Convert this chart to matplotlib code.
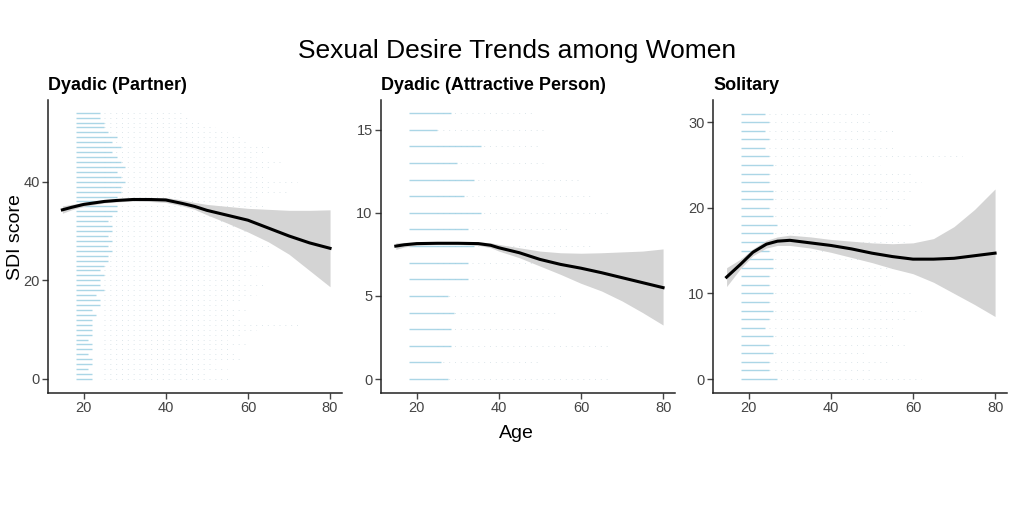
import matplotlib.pyplot as plt
import numpy as np

plt.rcParams['font.family'] = ['Liberation Sans', 'DejaVu Sans']

# ---- data ----
titles = ['Dyadic (Partner)', 'Dyadic (Attractive Person)', 'Solitary']

# smooth curves (age, fit, lower, upper)
age_fit = [[14.8, 17, 20, 25, 28, 32, 36, 40, 44, 47, 50, 55, 60, 65, 70, 75, 80],
           [14.9, 17, 20, 25, 30, 35, 38, 40, 45, 50, 55, 60, 65, 70, 75, 80],
           [14.6, 18, 21, 24.3, 27, 30, 35, 40, 45, 50, 55, 60, 65, 70, 75, 80]]
fit = [[34.3, 34.8, 35.4, 36.0, 36.2, 36.4, 36.4, 36.3, 35.6, 35.0, 34.2, 33.2, 32.2, 30.6, 29.0, 27.6, 26.5],
       [8.0, 8.08, 8.15, 8.17, 8.17, 8.15, 8.05, 7.9, 7.6, 7.2, 6.9, 6.67, 6.4, 6.1, 5.8, 5.5],
       [11.9, 13.4, 14.8, 15.75, 16.1, 16.2, 15.9, 15.6, 15.2, 14.7, 14.3, 14.0, 14.0, 14.1, 14.4, 14.7]]
lower = [[33.6, 34.3, 35.0, 35.7, 35.9, 36.1, 36.0, 35.8, 35.1, 34.4, 33.3, 31.6, 29.8, 27.8, 25.3, 22.0, 18.7],
         [7.8, 7.95, 8.05, 8.1, 8.1, 8.05, 7.9, 7.7, 7.3, 6.8, 6.3, 5.76, 5.3, 4.7, 4.0, 3.25],
         [10.8, 12.9, 14.4, 15.3, 15.6, 15.6, 15.3, 14.8, 14.2, 13.6, 12.9, 12.3, 11.3, 10.0, 8.7, 7.3]]
upper = [[35.1, 35.4, 35.8, 36.3, 36.5, 36.7, 36.8, 36.8, 36.3, 35.8, 35.4, 35.0, 34.6, 34.4, 34.2, 34.2, 34.3],
         [8.2, 8.22, 8.25, 8.25, 8.25, 8.25, 8.2, 8.1, 7.9, 7.7, 7.6, 7.57, 7.6, 7.65, 7.7, 7.83],
         [13.0, 14.0, 15.2, 16.2, 16.6, 16.8, 16.6, 16.3, 16.1, 15.9, 15.8, 15.9, 16.4, 17.8, 19.8, 22.2]]

# scatter rows: integer score levels, dense run from age 18 to dense_end, sparse dots to sparse_end
levels = [list(range(0, 55)), list(range(0, 17)), list(range(0, 32))]
dense_end = [
    [22, 22, 21, 22, 22, 21, 22, 22, 21, 22, 22, 22, 22, 23, 22, 24, 24, 23, 25, 24,
     24, 25, 24, 25, 26, 26, 27, 26, 27, 26, 27, 27, 26, 27, 28, 28, 27, 28, 29, 29,
     30, 29, 28, 30, 29, 28, 27, 29, 27, 28, 26, 25, 25, 24, 24],
    [27.5, 25.9, 28.3, 28.3, 29.1, 27.5, 32.4, 32.4, 34.0, 32.4, 35.6, 31.5, 34.0, 29.9, 35.6, 25.0, 28.3],
    [27, 25, 25, 26, 25, 26, 24, 25, 26, 25, 26, 25, 25, 26, 26, 25, 25, 26, 27, 26,
     25, 26, 26, 25, 25, 26, 25, 24, 25, 24, 25, 24],
]
sparse_end = [
    [56, 50, 55, 52, 58, 57, 56, 60, 55, 58, 62, 73, 58, 57, 60, 55, 58, 62, 60, 64,
     58, 62, 60, 65, 60, 58, 62, 66, 62, 60, 64, 66, 62, 60, 66, 64, 62, 63, 70, 66,
     72, 64, 62, 66, 68, 62, 64, 66, 60, 58, 55, 52, 48, 46, 44],
    [66.5, 50.2, 66.5, 51.9, 54.3, 55.1, 51.0, 50.2, 63.2, 57.6, 67.3, 63.2, 60.0, 51.0, 50.2, 51.0, 48.6],
    [62, 50, 54, 49, 58, 56, 55, 58, 62, 56, 60, 52, 54, 56, 55, 56, 58, 56, 60, 52,
     54, 58, 60, 62, 60, 52, 72, 56, 52, 56, 50, 50],
]

yticks = [[0, 20, 40], [0, 5, 10, 15], [0, 10, 20, 30]]
ylims = [(-2.84, 56.6), (-0.84, 16.8), (-1.63, 32.6)]
xticks = [20, 40, 60, 80]

fig = plt.figure(figsize=(10.15, 5.08), dpi=100)
lefts = [0.0473, 0.3754, 0.7025]

for i in range(3):
    ax = fig.add_axes([lefts[i], 0.2264, 0.290, 0.577])
    lv = np.array(levels[i])
    ax.hlines(lv, 25, sparse_end[i], color='#dde6ea', linewidth=0.7,
              linestyles=(0, (1, 5)), zorder=1)
    ax.hlines(lv, 18, dense_end[i], color='#9ccfe2', linewidth=1.0, alpha=0.85, zorder=2)
    ax.fill_between(age_fit[i], lower[i], upper[i], color='#d4d4d4', linewidth=0, zorder=3)
    ax.plot(age_fit[i], fit[i], color='black', linewidth=2.2, zorder=4)

    ax.set_xlim(11.3, 83)
    ax.set_ylim(*ylims[i])
    ax.set_xticks(xticks)
    ax.set_yticks(yticks[i])
    for s in ['top', 'right']:
        ax.spines[s].set_visible(False)
    for s in ['left', 'bottom']:
        ax.spines[s].set_linewidth(1.1)
        ax.spines[s].set_color('#222222')
    ax.tick_params(labelsize=10.5, colors='#444444', length=4, width=1, pad=2)
    ax.set_title(titles[i], loc='left', fontsize=13, fontweight='bold', pad=7)

fig.text(0.0155, 0.533, 'SDI score', rotation=90, ha='center', va='center', fontsize=14)
fig.text(0.509, 0.899, 'Sexual Desire Trends among Women', ha='center', va='center', fontsize=19)
fig.text(0.509, 0.147, 'Age', ha='center', va='center', fontsize=14)

plt.savefig('out.png', dpi=100)
